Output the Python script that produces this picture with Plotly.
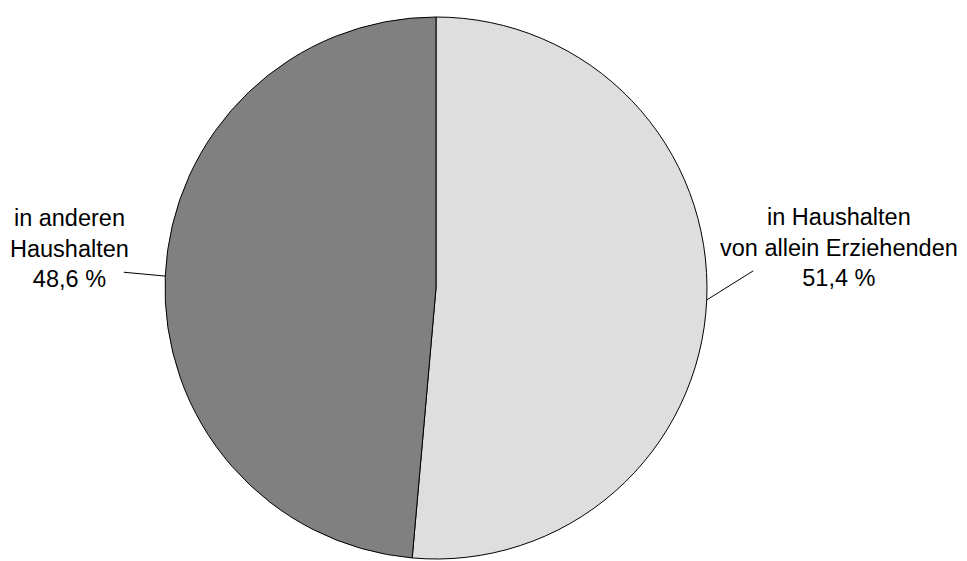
import math
import plotly.graph_objects as go

labels = ["in Haushalten<br>von allein Erziehenden", "in anderen<br>Haushalten"]
values = [51.4, 48.6]
colors = ["#DEDEDE", "#808080"]

W, H = 967, 561
CX, CY, R = 436, 288, 271  # pixel layout of the pie (from top-left)

fig = go.Figure(go.Pie(
    labels=labels, values=values, sort=False, direction="clockwise", rotation=0,
    marker=dict(colors=colors, line=dict(color="black", width=1)),
    textinfo="none", hoverinfo="skip", showlegend=False,
    domain=dict(x=[(CX - R) / W, (CX + R) / W], y=[(H - CY - R) / H, (H - CY + R) / H]),
))

# label layout (pixel offsets of line end and text centre)
line_ends = [(48, -30), (-43, -4)]
text_pos = [(839, 247), (69, 248)]

total = sum(values)
cum = 0
annotations = []
for i, v in enumerate(values):
    mid = (cum + v / 2) / total * 2 * math.pi
    cum += v
    px = CX + R * math.sin(mid)
    py = CY - R * math.cos(mid)
    txt = labels[i] + "<br>" + f"{v:.1f}".replace(".", ",") + " %"
    annotations.append(dict(
        x=px / W, y=1 - py / H, xref="paper", yref="paper", text="",
        showarrow=True, arrowhead=0, arrowwidth=1, arrowcolor="black",
        ax=line_ends[i][0], ay=line_ends[i][1],
    ))
    annotations.append(dict(
        x=text_pos[i][0] / W, y=1 - text_pos[i][1] / H, xref="paper", yref="paper",
        text=txt, showarrow=False, align="center", xanchor="center", yanchor="middle",
        font=dict(family="Liberation Sans, Arial", size=23.5, color="black"),
    ))

fig.update_layout(
    width=W, height=H, margin=dict(l=0, r=0, t=0, b=0),
    paper_bgcolor="white", plot_bgcolor="white",
    annotations=annotations,
)
fig.write_html("out.html", config=dict(displayModeBar=False),
               post_script="document.body.style.margin='0';")
